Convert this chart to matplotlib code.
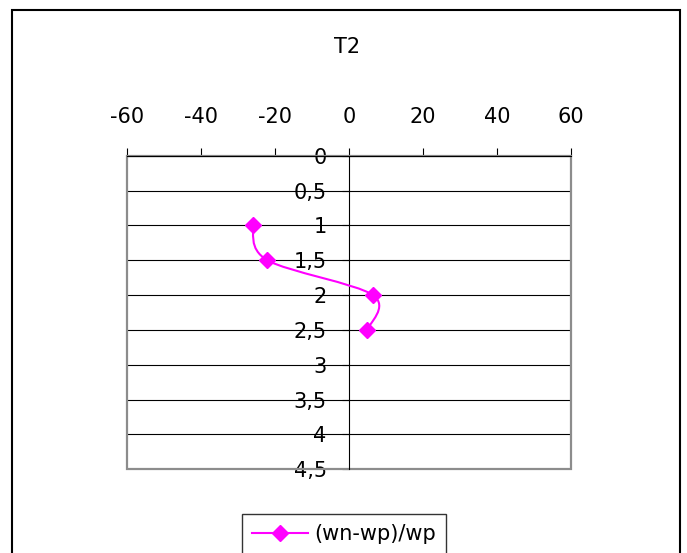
import matplotlib
matplotlib.use('Agg')
import matplotlib.pyplot as plt
from matplotlib.path import Path
from matplotlib.patches import PathPatch, Rectangle
from matplotlib.lines import Line2D

plt.rcParams['font.family'] = ['DejaVu Sans']
plt.rcParams['axes.unicode_minus'] = False

# data
depth = [1, 1.5, 2, 2.5]
ratio = [-26, -22, 6.5, 5]
x_ticks = [-60, -40, -20, 0, 20, 40, 60]
y_ticks = [0, 0.5, 1, 1.5, 2, 2.5, 3, 3.5, 4, 4.5]
y_labels = ['0', '0,5', '1', '1,5', '2', '2,5', '3', '3,5', '4', '4,5']
series_name = '(wn-wp)/wp'
title = 'T2'

magenta = '#FF00FF'
grey = '#8c8c8c'
fs = 15

fig = plt.figure(figsize=(6.87, 5.53), dpi=100)
ax = fig.add_axes([126.7 / 687, 1 - 469.3 / 553, (571 - 126.7) / 687, (469.3 - 155.7) / 553])

ax.set_xlim(-60, 60)
ax.set_ylim(4.5, 0)

# top axis
ax.xaxis.tick_top()
ax.set_xticks(x_ticks)
ax.tick_params(axis='x', direction='out', length=5.5, width=0.8, color='black',
               pad=15.5, labelsize=fs)

# vertical axis crossing at x=0
ax.spines['left'].set_position(('data', 0))
ax.spines['left'].set_color('black')
ax.spines['left'].set_linewidth(0.8)
ax.set_yticks(y_ticks)
ax.set_yticklabels(y_labels)
ax.tick_params(axis='y', direction='out', length=5, width=0.8, color='black',
               pad=11, labelsize=fs)
for lbl in ax.get_yticklabels():
    lbl.set_zorder(5)

ax.spines['top'].set_color('black')
ax.spines['top'].set_linewidth(0.8)
ax.spines['right'].set_visible(False)
ax.spines['bottom'].set_visible(False)

# grey plot-area frame
ax.add_patch(Rectangle((0, 0), 1, 1, transform=ax.transAxes, fill=False,
                       edgecolor=grey, linewidth=1.6, clip_on=False, zorder=1))

# horizontal gridlines
ax.yaxis.grid(True, color='black', linewidth=0.8)
ax.set_axisbelow(True)

# smoothed line (Catmull-Rom style bezier through the points)
pts = list(zip(ratio, depth))
verts = [pts[0]]
codes = [Path.MOVETO]
for i in range(len(pts) - 1):
    p0 = pts[i - 1] if i > 0 else pts[i]
    p1 = pts[i]
    p2 = pts[i + 1]
    p3 = pts[i + 2] if i + 2 < len(pts) else pts[i + 1]
    c1 = (p1[0] + (p2[0] - p0[0]) / 6, p1[1] + (p2[1] - p0[1]) / 6)
    c2 = (p2[0] - (p3[0] - p1[0]) / 6, p2[1] - (p3[1] - p1[1]) / 6)
    verts += [c1, c2, p2]
    codes += [Path.CURVE4] * 3
ax.add_patch(PathPatch(Path(verts, codes), fill=False, edgecolor=magenta,
                       linewidth=1.5, zorder=3))
ax.plot(ratio, depth, linestyle='none', marker='D', markersize=8,
        color=magenta, zorder=4, clip_on=False)

fig.text(347 / 687, 1 - 47 / 553, title, ha='center', va='center', fontsize=fs)

# legend box
handle = Line2D([], [], color=magenta, linewidth=1.5, marker='D', markersize=8)
leg = fig.legend([handle], [series_name], loc='upper left',
                 bbox_to_anchor=(242 / 687, 1 - 514 / 553), fontsize=fs,
                 fancybox=False, handlelength=2.65, handletextpad=0.3,
                 borderpad=0.5, borderaxespad=0)
leg.get_frame().set_edgecolor('black')
leg.get_frame().set_linewidth(1.0)

# outer chart border
fig.patches.append(Rectangle((12.5 / 687, -0.1), (680 - 12.5) / 687, 1.1 - 10 / 553,
                             transform=fig.transFigure, fill=False,
                             edgecolor='black', linewidth=1.5))

fig.savefig('out.png', dpi=100)
